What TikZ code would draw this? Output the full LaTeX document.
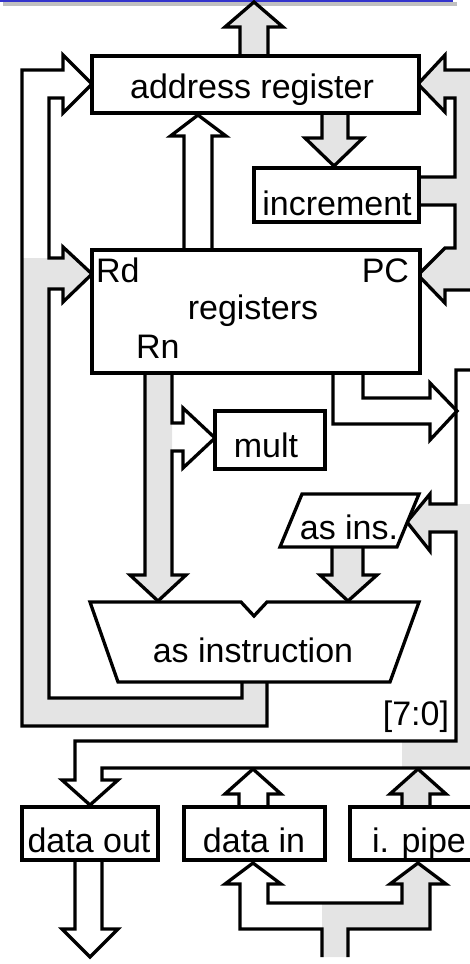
\documentclass[tikz,border=0pt]{standalone}
\usepackage{fontspec}
\setmainfont{Liberation Sans}
\definecolor{busgray}{RGB}{228,228,228}
\definecolor{barblue}{RGB}{51,51,204}
\definecolor{barshadow}{RGB}{192,192,192}
\begin{document}
\begin{tikzpicture}[x=1pt,y=-1pt, line width=3.3pt, line join=miter,
  box/.style={draw, fill=white, rectangle, inner sep=0pt, outer sep=0pt},
  lbl/.style={inner sep=0pt, outer sep=0pt, font=\fontsize{34}{40}\selectfont},
  busfill/.style={fill=busgray, draw=none}]
\useasboundingbox (0,0) rectangle (470,964);
\clip (0,0) rectangle (470,964);
% top bar
\fill[barshadow] (3,2) rectangle (457,5.6);
\fill[barblue] (0,0) rectangle (453,2);
% gray bus fills
\fill[busfill] (22,258) -- (63,258) -- (63,247) -- (92,274) -- (63,302) -- (63,289) -- (49,289) -- (49,698) -- (242,698) -- (242,682) -- (267,682) -- (267,726) -- (22,726) -- cycle;
\fill[busfill] (475,70) -- (445,70) -- (445,55) -- (418,84) -- (445,112) -- (445,98) -- (455,98) -- (455,177) -- (419,177) -- (419,205) -- (455,205) -- (455,248) -- (445,248) -- (418,275) -- (445,303) -- (445,290) -- (475,290) -- cycle;
\fill[busfill] (145,373) -- (172,373) -- (172,575) -- (186,575) -- (158,601) -- (130,575) -- (145,575) -- cycle;
\fill[busfill] (475,504) -- (430,504) -- (430,494) -- (407,522) -- (430,551) -- (430,532) -- (456,532) -- (456,741) -- (402,741) -- (402,768) -- (475,768) -- cycle;
\fill[busfill] (322,957) -- (322,903) -- (402,903) -- (402,884) -- (390,884) -- (418,863) -- (446,884) -- (430,884) -- (430,929) -- (348,929) -- (348,957) -- cycle;
% arrows and bus outlines
\draw[fill=busgray] (240,57) -- (240,27) -- (225,27) -- (254,2) -- (283,27) -- (268,27) -- (268,57);
\draw[fill=busgray] (322,113) -- (322,138) -- (305,138) -- (334,166) -- (363,138) -- (348,138) -- (348,113);
\draw (184,250) -- (184,136) -- (170.5,136) -- (198,115) -- (226,136) -- (212,136) -- (212,250);
\draw (267,682) -- (267,726) -- (22,726) -- (22,70) -- (63,70) -- (63,55) -- (92,84) -- (63,113) -- (63,98) -- (49,98) -- (49,258) -- (63,258) -- (63,247) -- (92,274) -- (63,302) -- (63,289) -- (49,289) -- (49,698) -- (242,698) -- (242,682);
\draw (475,70) -- (445,70) -- (445,55) -- (418,84) -- (445,112) -- (445,98) -- (455,98) -- (455,177) -- (419,177);
\draw (419,205) -- (455,205) -- (455,248) -- (445,248) -- (418,275) -- (445,303) -- (445,290) -- (475,290);
\draw (145,373) -- (145,575) -- (130,575) -- (158,601) -- (186,575) -- (172,575) -- (172,451) -- (183,451) -- (183,468) -- (215,438) -- (183,408) -- (183,423) -- (172,423) -- (172,373);
\draw (363,373) -- (363,398) -- (430,398) -- (430,383) -- (457,411) -- (430,440) -- (430,424) -- (333,424) -- (333,373);
\draw (475,370) -- (456,370) -- (456,504) -- (430,504) -- (430,494) -- (407,522) -- (430,551) -- (430,532) -- (456,532) -- (456,741) -- (75,741) -- (75,780) -- (62,780) -- (90,805) -- (118,780) -- (102,780) -- (102,768) -- (475,768);
\draw[fill=busgray] (332,547) -- (332,575) -- (320,575) -- (348,601) -- (377,575) -- (363,575) -- (363,547);
\draw (75,860) -- (75,929) -- (62,929) -- (90,957) -- (118,929) -- (102,929) -- (102,860);
\draw (239,807) -- (239,794) -- (225,794) -- (253,769) -- (281,794) -- (268,794) -- (268,807);
\draw[fill=busgray] (402,807) -- (402,794) -- (390,794) -- (418,769) -- (446,794) -- (430,794) -- (430,807);
\draw (322,957) -- (322,929) -- (240,929) -- (240,884) -- (225,884) -- (253,863) -- (281,884) -- (268,884) -- (268,903) -- (402,903) -- (402,884) -- (390,884) -- (418,863) -- (446,884) -- (430,884) -- (430,929) -- (348,929) -- (348,957);
% boxes
\node[box, minimum width=327pt, minimum height=57pt] (addr) at (255.5,84.5) {};
\node[box, minimum width=165pt, minimum height=54pt] (inc) at (336.5,195) {};
\node[box, minimum width=328pt, minimum height=123pt] (regs) at (256,311.5) {};
\node[box, minimum width=110pt, minimum height=58pt] (mult) at (270,440) {};
\node[box, minimum width=136pt, minimum height=53pt] (dout) at (90,833.5) {};
\node[box, minimum width=141pt, minimum height=53pt] (din) at (254.5,833.5) {};
\node[box, minimum width=136pt, minimum height=53pt] (ipipe) at (418,833.5) {};
\draw[fill=white] (302,494) -- (419,494) -- (397,547) -- (280,547) -- cycle;
\draw[fill=white] (90,602) -- (241,602) -- (254,616) -- (267,602) -- (419,602) -- (390,682) -- (118,682) -- cycle;
% texts
\node[lbl, anchor=base] (tAddr) at (252,98) {address register};
\node[lbl, anchor=base] (tInc) at (337,215) {increment};
\node[lbl, anchor=base west] (tRd) at (96,282) {Rd};
\node[lbl, anchor=base east] (tPC) at (409,282) {PC};
\node[lbl, anchor=base] (tReg) at (253,319) {registers};
\node[lbl, anchor=base west] (tRn) at (136,358) {Rn};
\node[lbl, anchor=base] (tMult) at (266,457) {mult};
\node[lbl, anchor=base] (tAsIns) at (349,539) {as ins.};
\node[lbl, anchor=base] (tAsInstr) at (253,662) {as instruction};
\node[lbl, anchor=base east] (t70) at (449,725) {[7:0]};
\node[lbl, anchor=base] (tDO) at (89,852) {data out};
\node[lbl, anchor=base] (tDI) at (254,852) {data in};
\node[lbl, anchor=base west] (tIP) at (372,852) {i. pipe};
\end{tikzpicture}
\end{document}
